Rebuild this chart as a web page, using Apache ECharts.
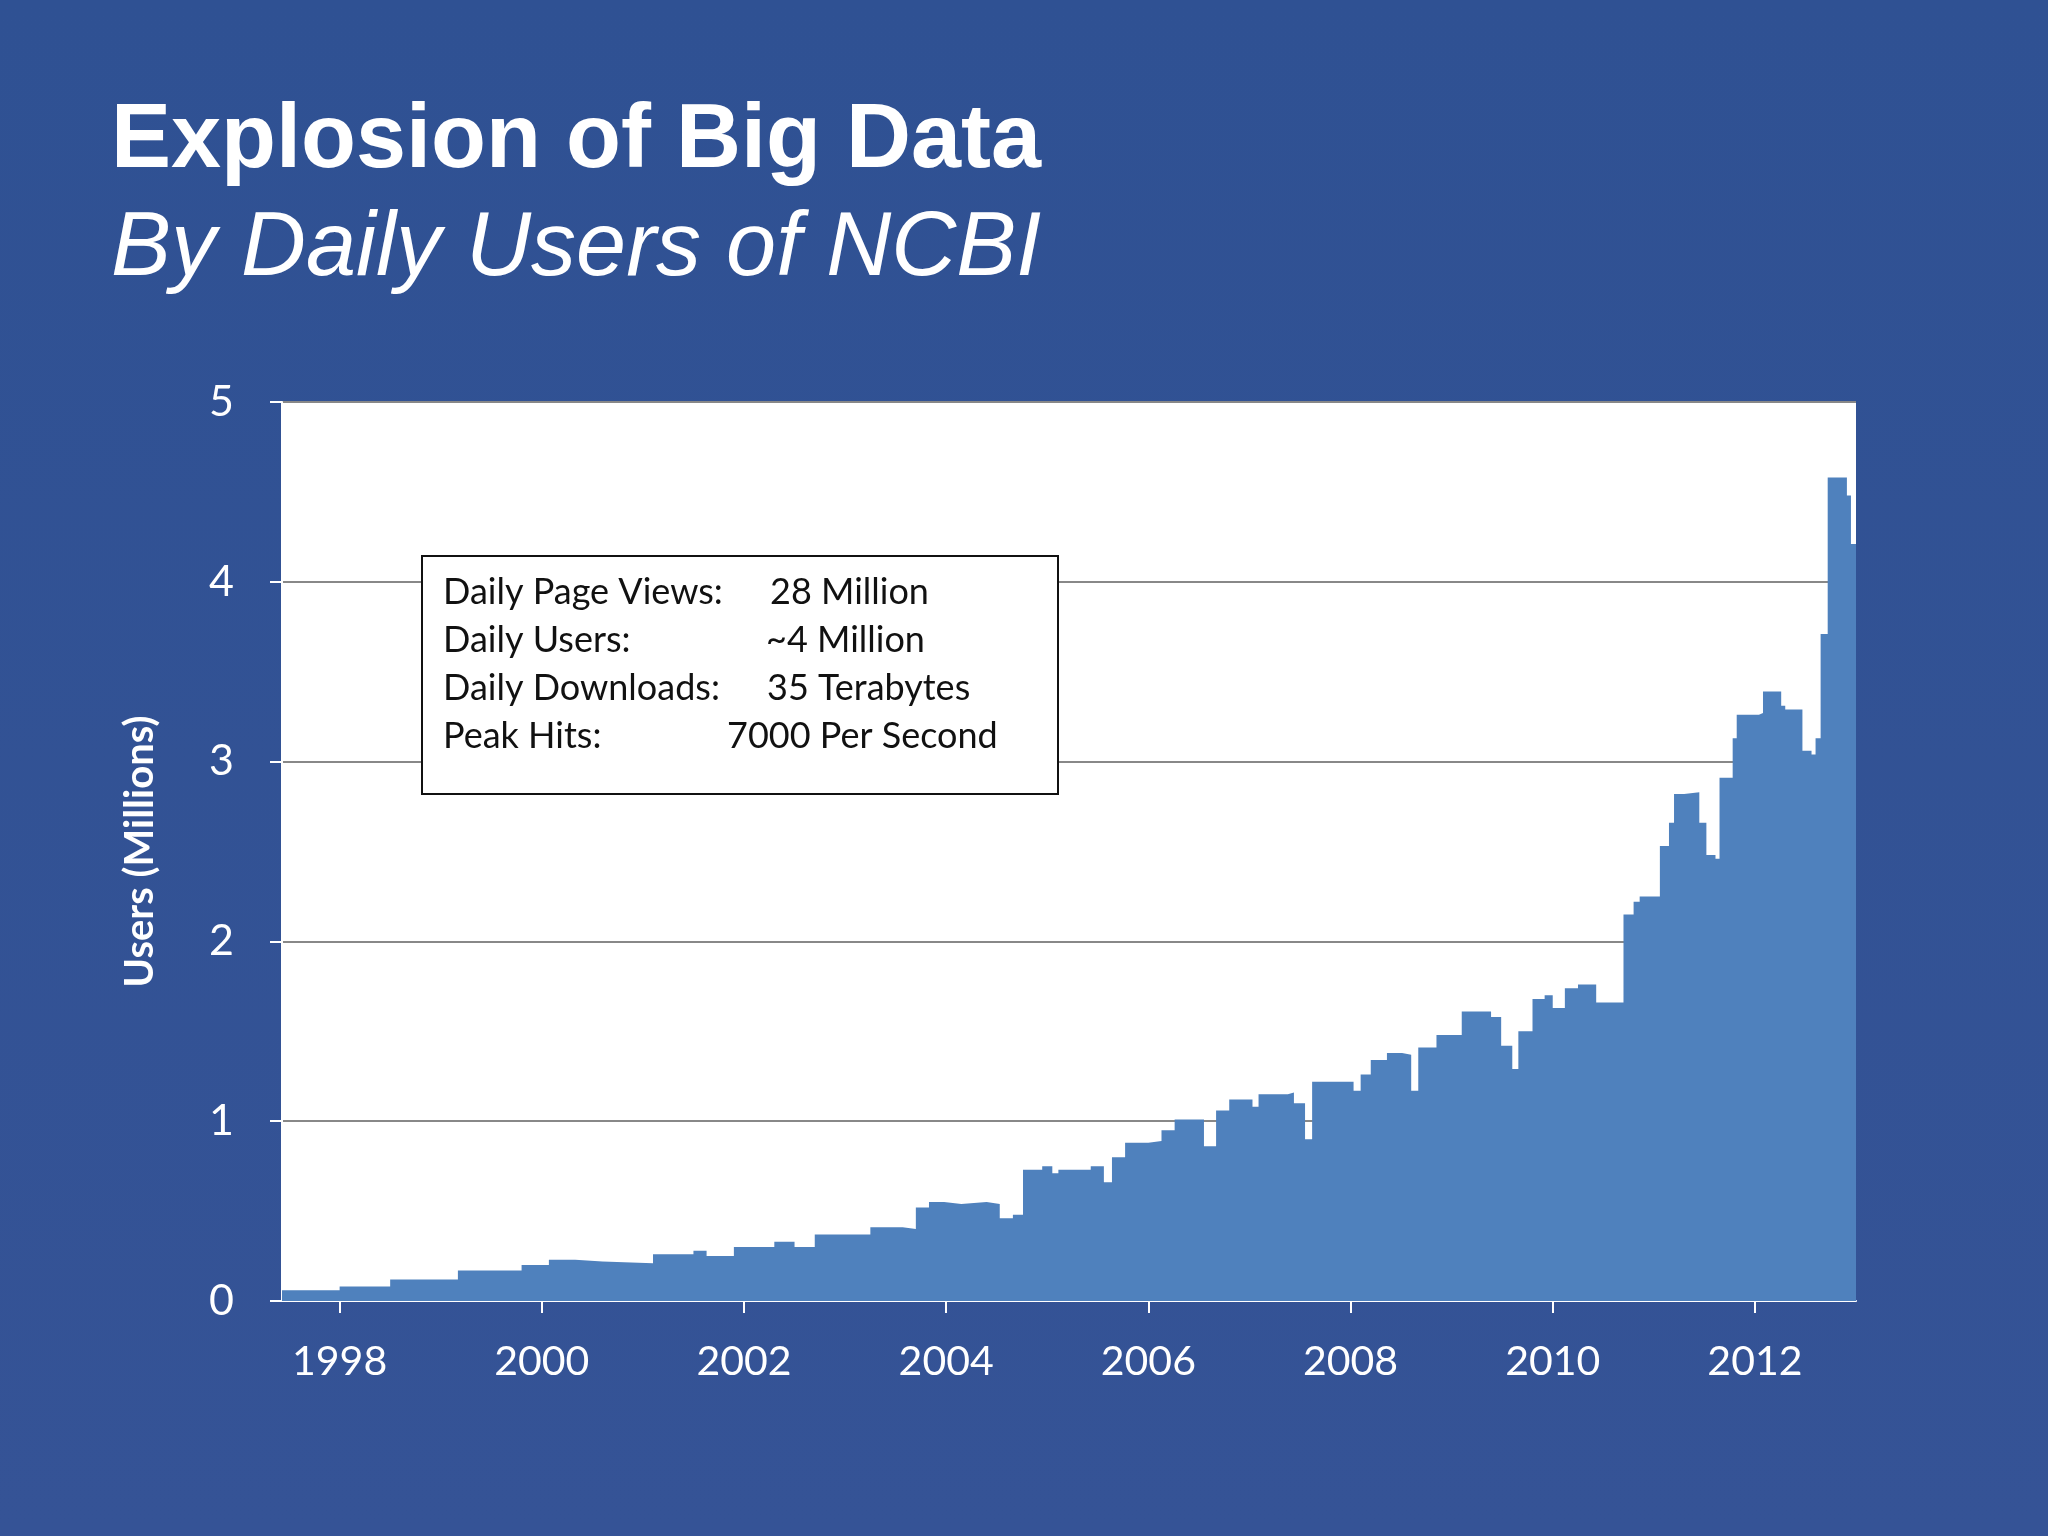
<!DOCTYPE html>
<html><head><meta charset="utf-8">
<script src="https://cdn.jsdelivr.net/npm/echarts@6/dist/echarts.min.js"></script>
<style>html,body{margin:0;padding:0;}#c{width:2048px;height:1536px;background:linear-gradient(180deg,#2f5193,#355396);}</style>
</head><body><div id="c"></div>
<script>
const years = [1997.43,1998,1998.5,1999.17,1999.8,2000.07,2000.33,2000.6,2001.1,2001.5,2001.63,2001.9,2002.3,2002.5,2002.7,2003.05,2003.25,2003.57,2003.7,2003.83,2003.98,2004.15,2004.4,2004.53,2004.66,2004.76,2004.95,2005.05,2005.11,2005.43,2005.56,2005.64,2005.77,2006.0,2006.13,2006.26,2006.39,2006.55,2006.67,2006.8,2007.0,2007.03,2007.09,2007.38,2007.44,2007.55,2007.62,2007.97,2008.03,2008.1,2008.2,2008.36,2008.51,2008.6,2008.67,2008.85,2009.03,2009.1,2009.32,2009.39,2009.49,2009.6,2009.66,2009.8,2009.92,2010.0,2010.05,2010.12,2010.25,2010.4,2010.43,2010.6,2010.7,2010.8,2010.86,2011.04,2011.06,2011.15,2011.2,2011.3,2011.45,2011.52,2011.61,2011.65,2011.78,2011.82,2012.04,2012.08,2012.24,2012.26,2012.3,2012.43,2012.47,2012.56,2012.6,2012.65,2012.72,2012.88,2012.91,2012.95,2013.0];
const users = [0.06,0.08,0.12,0.17,0.2,0.23,0.22,0.21,0.26,0.28,0.25,0.30,0.33,0.30,0.37,0.37,0.41,0.40,0.52,0.55,0.54,0.55,0.54,0.46,0.48,0.73,0.75,0.71,0.73,0.75,0.66,0.80,0.88,0.89,0.95,1.01,1.01,0.86,1.06,1.12,1.12,1.08,1.15,1.16,1.10,0.90,1.22,1.22,1.17,1.26,1.34,1.38,1.37,1.17,1.41,1.48,1.48,1.61,1.61,1.58,1.42,1.29,1.50,1.68,1.70,1.63,1.63,1.74,1.76,1.76,1.66,1.66,2.15,2.22,2.25,2.25,2.53,2.66,2.82,2.83,2.66,2.48,2.46,2.91,3.13,3.26,3.27,3.39,3.39,3.31,3.29,3.29,3.06,3.04,3.13,3.71,4.58,4.58,4.48,4.21,4.21];
const yearTicks = [1998,2000,2002,2004,2006,2008,2010,2012];
const boxLabels = ['Daily Page Views:','Daily Users:','Daily Downloads:','Peak Hits:'];
const boxValues = ['28 Million','~4 Million','35 Terabytes','7000 Per Second'];
const boxValueX = [770,766,767,727];

const chart = echarts.init(document.getElementById('c'));
const boxTexts = [];
boxLabels.forEach((t,i)=>{
  boxTexts.push({type:'text',left:443,top:574+i*48,style:{text:t,font:'36px Lato',fill:'#111'}});
  boxTexts.push({type:'text',left:boxValueX[i],top:574+i*48,style:{text:boxValues[i],font:'36px Lato',fill:'#111'}});
});
chart.setOption({
  animation:false,
  title:[
    {text:'Explosion of Big Data',left:106,top:92,textStyle:{color:'#fff',fontSize:90,fontWeight:'bold',fontFamily:'Liberation Sans'}},
    {text:'By Daily Users of NCBI',left:106,top:200,textStyle:{color:'#fff',fontSize:90,fontStyle:'italic',fontWeight:'normal',fontFamily:'Liberation Sans'}}
  ],
  grid:{left:282,right:192,top:402,bottom:235,show:true,backgroundColor:'#fff',borderWidth:0},
  xAxis:{type:'value',min:1997.43,max:2013.0,
    axisLine:{show:true,lineStyle:{color:'#fff',width:2}},
    axisTick:{show:true,customValues:yearTicks,length:12,lineStyle:{color:'#fff',width:2}},
    axisLabel:{customValues:yearTicks,color:'#fff',fontSize:41,fontFamily:'Lato',margin:40,formatter:v=>String(v)},
    splitLine:{show:false}},
  yAxis:{type:'value',min:0,max:5,interval:1,
    name:'Users (Millions)',nameLocation:'middle',nameGap:122,nameRotate:90,
    nameTextStyle:{color:'#fff',fontSize:40,fontWeight:'bold',fontFamily:'Lato'},
    axisLine:{show:true,lineStyle:{color:'#fff',width:2}},
    axisTick:{show:true,length:12,lineStyle:{color:'#fff',width:2}},
    axisLabel:{color:'#fff',fontSize:43,fontFamily:'Lato',margin:48},
    splitLine:{show:true,lineStyle:{color:'#888',width:2}}},
  series:[{type:'line',step:'end',symbol:'none',data:years.map((y,i)=>[y,users[i]]),
    lineStyle:{width:0,color:'#4f81bd'},areaStyle:{color:'#4f81bd',opacity:1}}],
  graphic:[{type:'rect',shape:{x:422,y:556,width:636,height:238},style:{fill:'#fff',stroke:'#111',lineWidth:2},z:10},
    ...boxTexts.map(t=>Object.assign(t,{z:11}))]
});
</script></body></html>
